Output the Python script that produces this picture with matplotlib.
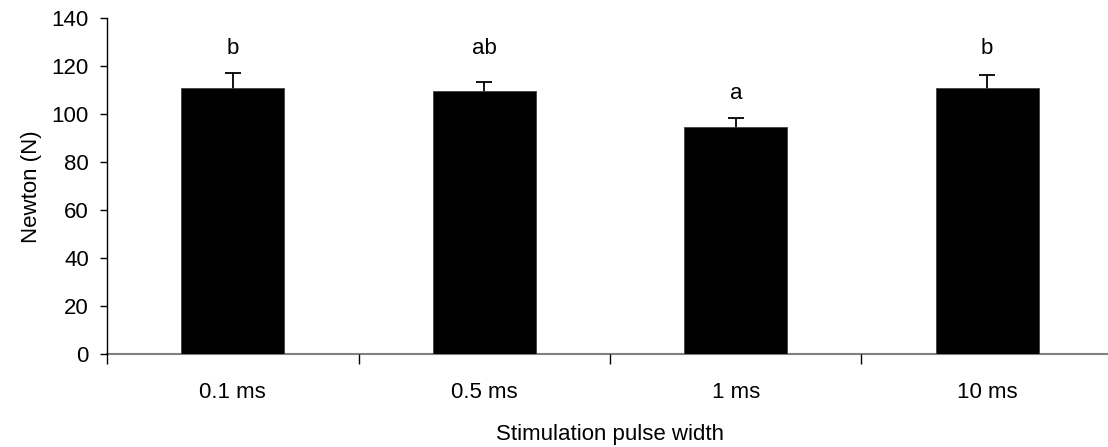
import numpy as np
import matplotlib
matplotlib.use("Agg")
import matplotlib.pyplot as plt

# data
categories = ["0.1 ms", "0.5 ms", "1 ms", "10 ms"]
force_n    = [111.1, 109.7, 94.7, 111.1]
sem_n      = [6.3, 3.8, 3.8, 5.2]
letters    = ["b", "ab", "a", "b"]
letter_y   = [125.0, 125.0, 106.4, 125.0]

plt.rcParams["font.family"] = ["Liberation Sans", "DejaVu Sans"]
plt.rcParams["font.size"] = 16

fig = plt.figure(figsize=(11.08, 4.47), dpi=100)
ax = fig.add_axes([0.0966, 0.2074, 0.9079, 0.7516])

x = np.arange(len(categories))
ax.bar(x, force_n, width=0.41, color="black", edgecolor="#404040", linewidth=0.6, zorder=3)
# symmetric bars drawn behind the columns so only the upper half shows
ax.errorbar(x, force_n, yerr=sem_n, fmt="none",
            ecolor="black", elinewidth=1.3, capsize=6, capthick=1.3, zorder=2)
for xi, lab, ly in zip(x, letters, letter_y):
    ax.text(xi, ly, lab, ha="center", va="baseline", fontsize=16)

ax.set_xlim(-0.5, len(categories) - 0.5)
ax.set_ylim(0, 140)
ax.set_yticks(np.arange(0, 141, 20))

# category labels centred, tick marks between categories
ax.set_xticks(x)
ax.set_xticklabels(categories)
ax.set_xticks(np.arange(-0.5, len(categories) - 0.5, 1.0), minor=True)
ax.tick_params(axis="x", which="major", length=0, pad=20)
ax.tick_params(axis="x", which="minor", length=7, width=1, color="black", direction="out")
ax.tick_params(axis="y", length=5, width=1, pad=8, direction="out")

ax.spines["top"].set_visible(False)
ax.spines["right"].set_visible(False)
ax.spines["left"].set_linewidth(1)
ax.spines["bottom"].set_color("#808080")
ax.spines["bottom"].set_linewidth(1.5)
ax.spines["bottom"].set_zorder(1)

ax.set_xlabel("Stimulation pulse width", labelpad=15)
ax.set_ylabel("Newton (N)", labelpad=7)

fig.savefig("out.png", dpi=100)
